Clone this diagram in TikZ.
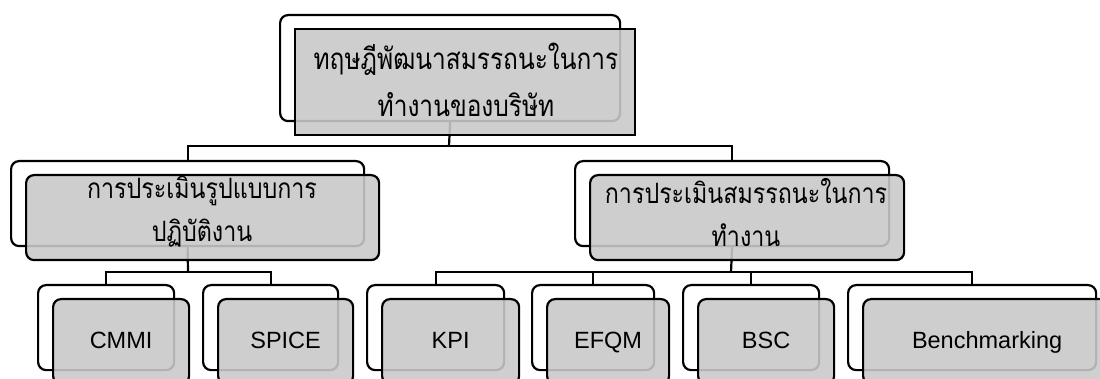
\documentclass[tikz,border=0pt]{standalone}
\usepackage{fontspec}
\setmainfont{Liberation Sans}
\newfontfamily\thaifont[Script=Thai,FakeStretch=0.83]{Loma}
\begin{document}
\begin{tikzpicture}[x=1pt,y=-1pt,
 back/.style={draw=black,line width=2.2pt,fill=white,rounded corners=8pt,inner sep=0pt,anchor=north west},
 front/.style={draw=black,line width=2.2pt,fill=black!21,fill opacity=0.89,text opacity=1,rounded corners=8pt,inner sep=0pt,anchor=north west},
 conn/.style={draw=black,line width=2.2pt},
 thai/.style={font=\thaifont\fontsize{28}{43}\selectfont,align=center,inner sep=0pt},
 thaibig/.style={font=\thaifont\fontsize{29.5}{47}\selectfont,align=center,inner sep=0pt},
 eng/.style={font=\fontsize{23.5}{27}\selectfont,text height=17pt,text depth=4pt}]
\useasboundingbox (0,0) rectangle (1100,379);
\clip (0,0) rectangle (1100,379);
\coordinate (h1) at (449,146);
\coordinate (h2) at (188,272);
\coordinate (h3) at (731,272);
% back boxes
\node[back,minimum width=340,minimum height=106] (topB) at (279,14) {};
\node[back,minimum width=353,minimum height=85] (l2aB) at (10,160) {};
\node[back,minimum width=314,minimum height=85] (l2bB) at (574,160) {};
\node[back,minimum width=136,minimum height=85] (cmmiB) at (37,284) {};
\node[back,minimum width=135,minimum height=85] (spiceB) at (202,284) {};
\node[back,minimum width=137,minimum height=85] (kpiB) at (366,284) {};
\node[back,minimum width=122,minimum height=85] (efqmB) at (531,284) {};
\node[back,minimum width=136,minimum height=85] (bscB) at (682,284) {};
\node[back,minimum width=248,minimum height=85] (benchB) at (847,284) {};
% connectors
\draw[conn] (topB.south) -- (h1);
\draw[conn] (h1) -| (l2aB.north);
\draw[conn] (h1) -| (l2bB.north);
\draw[conn] (l2aB.south) -- (h2);
\draw[conn] (h2) -| (cmmiB.north);
\draw[conn] (h2) -| (spiceB.north);
\draw[conn] (l2bB.south) -- (h3);
\draw[conn] (h3) -| (kpiB.north);
\draw[conn] (h3) -| (efqmB.north);
\draw[conn] (h3) -| (bscB.north);
\draw[conn] (h3) -| (benchB.north);
% front boxes
\node[front,rounded corners=0pt,minimum width=340,minimum height=106] (topF) at (294,28) {};
\node[thaibig] (topT) at (466,80) {ทฤษฎีพัฒนาสมรรถนะในการ\\ทำงานของบริษัท};
\node[front,minimum width=353,minimum height=85] (l2aF) at (25,174) {};
\node[thai] (l2aT) at (202,212) {การประเมินรูปแบบการ\\ปฏิบัติงาน};
\node[front,minimum width=314,minimum height=85] (l2bF) at (589,174) {};
\node[thai] (l2bT) at (746,212) {การประเมินสมรรถนะในการ\\ทำงาน};
\node[front,eng,minimum width=136,minimum height=85] (cmmiF) at (52,298) {CMMI};
\node[front,eng,minimum width=135,minimum height=85] (spiceF) at (217,298) {SPICE};
\node[front,eng,minimum width=137,minimum height=85] (kpiF) at (381,298) {KPI};
\node[front,eng,minimum width=122,minimum height=85] (efqmF) at (546,298) {EFQM};
\node[front,eng,minimum width=136,minimum height=85] (bscF) at (697,298) {BSC};
\node[front,eng,minimum width=248,minimum height=85] (benchF) at (862,298) {Benchmarking};
\end{tikzpicture}
\end{document}
